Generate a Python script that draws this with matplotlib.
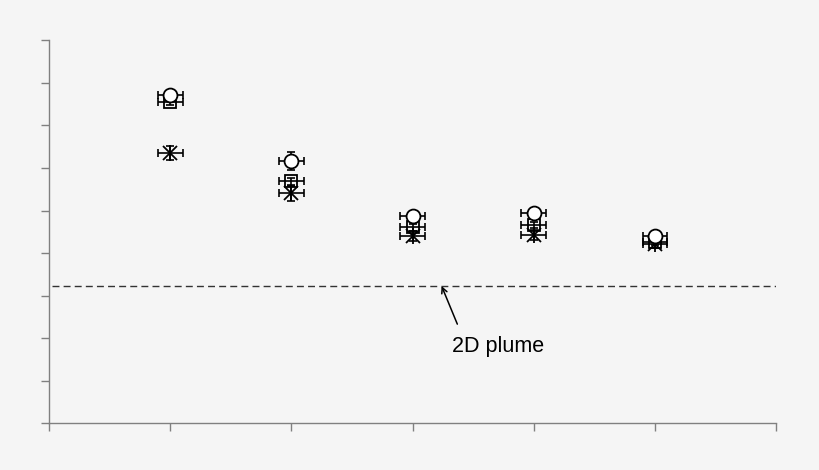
import numpy as np
import matplotlib.pyplot as plt

plt.rcParams['font.family'] = ['Liberation Sans', 'DejaVu Sans']

# positions of the five cases
x = [1, 2, 3, 4, 5]

# three series (open circle, open square, asterisk)
circle_y = [7.71, 6.17, 4.86, 4.94, 4.40]
square_y = [7.55, 5.69, 4.61, 4.66, 4.26]
star_y = [6.35, 5.40, 4.40, 4.42, 4.21]

circle_yerr = [0.08, 0.21, 0.08, 0.08, 0.08]
square_yerr = [0.08, 0.08, 0.08, 0.08, 0.08]
star_yerr = [0.17, 0.17, 0.12, 0.12, 0.08]
xerr = [0.1, 0.1, 0.1, 0.1, 0.1]

plume_2d = 3.225
xticks = [0, 1, 2, 3, 4, 5, 6]
yticks = [0, 1, 2, 3, 4, 5, 6, 7, 8, 9]

bg = '#f5f5f5'
fig = plt.figure(figsize=(8.2, 4.7), dpi=100, facecolor=bg)
ax = fig.add_axes([0.0602, 0.0994, 0.8858, 0.8149], facecolor=bg)

ebkw = dict(fmt='none', ecolor='black', elinewidth=1.2, capsize=3, capthick=1.2)

# asterisks (x + vertical bar)
ax.errorbar(x, star_y, yerr=star_yerr, xerr=xerr, zorder=3, **ebkw)
ax.plot(x, star_y, 'x', color='black', ms=10, mew=1.3, zorder=4)
ax.plot(x, star_y, '|', color='black', ms=12, mew=1.3, zorder=4)

# squares
ax.errorbar(x, square_y, yerr=square_yerr, xerr=xerr, zorder=5, **ebkw)
ax.plot(x, square_y, 's', mfc='none', mec='black', ms=8.5, mew=1.3, zorder=6)

# circles on top
ax.errorbar(x, circle_y, yerr=circle_yerr, xerr=xerr, zorder=7, **ebkw)
ax.plot(x, circle_y, 'o', mfc='white', mec='black', ms=10, mew=1.3, zorder=8)

# 2D plume reference line
ax.plot([0.02, 6.0], [plume_2d, plume_2d], color='#333333', lw=1.0,
        dashes=(5, 3), zorder=2)
ax.annotate('', xy=(3.24, plume_2d), xytext=(3.37, 2.33),
            arrowprops=dict(arrowstyle='->', color='black', lw=1.1,
                            shrinkA=0, shrinkB=0))
ax.text(3.33, 1.68, '2D plume', fontsize=15.5, va='baseline', ha='left')

ax.set_xlim(0, 6)
ax.set_ylim(0, 9)
ax.set_xticks(xticks)
ax.set_yticks(yticks)
ax.set_xticklabels([])
ax.set_yticklabels([])
ax.tick_params(direction='out', length=6, width=1, color='#808080')

for side in ['top', 'right']:
    ax.spines[side].set_visible(False)
for side in ['left', 'bottom']:
    ax.spines[side].set_color('#808080')
    ax.spines[side].set_linewidth(1.0)

fig.savefig('out.png', dpi=100, facecolor=bg)
